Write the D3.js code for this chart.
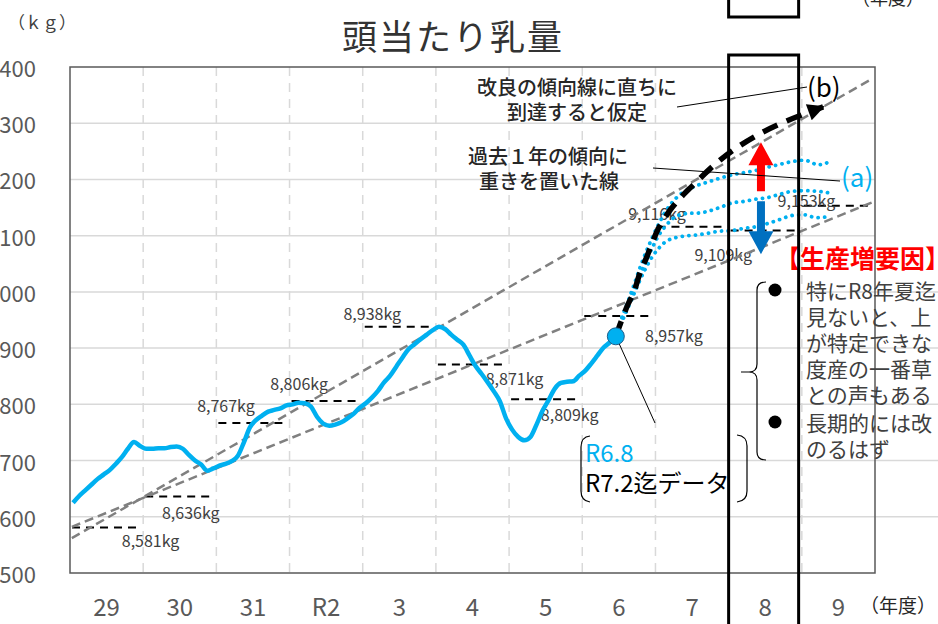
<!DOCTYPE html>
<html>
<head>
<meta charset="utf-8">
<script src="https://cdn.jsdelivr.net/npm/d3@7"></script>
<style>
body { margin: 0; background: #fff; }
svg { display: block; font-family: "Noto Sans CJK JP", "Noto Sans", sans-serif; }
</style>
</head>
<body>
<svg id="chart" width="938" height="624"></svg>
<script>
// fiscal years on the x axis
const years = ["29", "30", "31", "R2", "3", "4", "5", "6", "7", "8", "9"];
const yTicks = [8500, 8600, 8700, 8800, 8900, 9000, 9100, 9200, 9300, 9400];

// monthly milk per head (kg), from H29 up to R6.8
const actual = [
    8625, 8637, 8647, 8657, 8667, 8675, 8683, 8694, 8706, 8721,
    8733, 8726, 8721, 8721, 8722, 8722, 8724, 8725, 8721, 8710,
    8700, 8693, 8682, 8686, 8691, 8694, 8699, 8708, 8732, 8759,
    8772, 8780, 8787, 8790, 8793, 8798, 8800, 8803, 8802, 8796,
    8778, 8766, 8762, 8764, 8768, 8775, 8783, 8794, 8802, 8812,
    8824, 8839, 8851, 8867, 8883, 8898, 8907, 8916, 8924, 8932,
    8938, 8934, 8924, 8915, 8906, 8887, 8868, 8854, 8839, 8823,
    8805, 8775, 8755, 8742, 8736, 8742, 8764, 8789, 8808, 8828,
    8838, 8840, 8841, 8851, 8860, 8873, 8887, 8901, 8910, 8921
];

// fiscal year levels (dashed black)
const yearLevels = [8581, 8636, 8767, 8806, 8938, 8871, 8809, 8957, 9116, 9109, 9153];

// trend lines [month, kg]
const trendImprove = [[-0.2, 8562], [131, 9379]];
const trendLower = [[-0.2, 8582], [131, 9159]];

// (b) reaches improvement trend right away
const forecastB = [[89, 8921], [90, 8951], [91, 8978], [92, 9001], [93, 9035], [94, 9060],
    [95, 9088], [96, 9113], [97, 9131], [98, 9147], [99, 9160], [100, 9172], [101, 9183],
    [102, 9193], [103, 9204], [123, 9329]];

// (a) weighted on the last year
const forecastUpper = [[89, 8921], [90, 8955], [91, 8983], [92, 9013], [93, 9044], [94, 9072],
    [95, 9097], [96, 9120], [97, 9140], [98, 9156], [99, 9168], [100, 9177], [101, 9183],
    [102, 9188], [104, 9195], [106, 9202], [108, 9208], [110, 9212], [112, 9216], [114, 9222],
    [116, 9227], [118, 9232], [120, 9234], [121, 9231], [122, 9226], [123, 9227], [124, 9232]];
const forecastMid = [[89, 8921], [90, 8951], [91, 8978], [92, 9004], [93, 9031], [94, 9056],
    [95, 9079], [96, 9100], [97, 9115], [98, 9127], [99, 9135], [100, 9138], [101, 9140],
    [102, 9140], [104, 9143], [106, 9150], [108, 9158], [110, 9161], [112, 9165], [114, 9168],
    [116, 9174], [118, 9179], [120, 9180], [122, 9179], [124, 9176]];
const forecastLow = [[89, 8921], [90, 8947], [91, 8972], [92, 8997], [93, 9022], [94, 9044],
    [95, 9063], [96, 9077], [97, 9088], [98, 9094], [99, 9097], [100, 9099], [102, 9101],
    [104, 9104], [106, 9108], [108, 9109], [110, 9113], [112, 9116], [114, 9122], [116, 9129],
    [118, 9136], [120, 9137], [121, 9134], [122, 9132], [124, 9134]];

const noteLines = ["特にR8年夏迄", "見ないと、上", "が特定できな", "度産の一番草", "との声もある", "長期的には改", "のるはず"];

const svg = d3.select("#chart");
const L = 70, R = 875, T = 67, B = 573;

const xBand = d3.scaleBand().domain(years).range([L, R]);
const xM = d3.scaleLinear().domain([-0.5, 131.5]).range([L, R]);
const y = d3.scaleLinear().domain([8500, 9400]).range([B, T]);
const bw = xBand.bandwidth();

svg.append("rect").attr("width", 938).attr("height", 624).attr("fill", "#fff");

// horizontal grid
svg.append("g").selectAll("line")
    .data(yTicks.slice(1, -1))
    .enter().append("line")
    .attr("x1", L).attr("x2", d => d <= 9000 ? 938 : R)
    .attr("y1", d => y(d)).attr("y2", d => y(d))
    .attr("stroke", "#d9d9d9").attr("stroke-width", 1.5);

// vertical dashed grid
svg.append("g").selectAll("line")
    .data(years.slice(1))
    .enter().append("line")
    .attr("x1", d => xBand(d)).attr("x2", d => xBand(d))
    .attr("y1", T).attr("y2", B)
    .attr("stroke", "#d9d9d9").attr("stroke-width", 1.5)
    .attr("stroke-dasharray", "9,7");

// frame
svg.append("rect")
    .attr("x", L).attr("y", T).attr("width", R - L).attr("height", B - T)
    .attr("fill", "none").attr("stroke", "#595959").attr("stroke-width", 1.5);

// y tick labels (left part runs off the picture)
svg.append("g").selectAll("text")
    .data(yTicks)
    .enter().append("text")
    .attr("x", 36).attr("y", d => y(d))
    .attr("text-anchor", "end").attr("dominant-baseline", "central")
    .attr("font-size", 22).attr("fill", "#595959")
    .text(d3.format(","));

// x tick labels
svg.append("g").selectAll("text")
    .data(years)
    .enter().append("text")
    .attr("x", d => xBand(d) + bw / 2).attr("y", 616)
    .attr("text-anchor", "middle")
    .attr("font-size", 24).attr("fill", "#595959")
    .text(d => d);

svg.append("text").attr("x", 860).attr("y", 613)
    .attr("font-size", 19).attr("fill", "#262626").text("（年度）");
svg.append("text").attr("x", 852).attr("y", 5)
    .attr("font-size", 18).attr("fill", "#262626").text("（年度）");
svg.append("text").attr("x", 8).attr("y", 29)
    .attr("font-size", 17).attr("fill", "#404040").text("（ｋｇ）");

// title
svg.append("text").attr("x", 453).attr("y", 50)
    .attr("text-anchor", "middle").attr("font-size", 35).attr("letter-spacing", 2)
    .attr("fill", "#333").text("頭当たり乳量");

// fiscal year level segments
const levels = svg.append("g");
levels.selectAll("line")
    .data(yearLevels)
    .enter().append("line")
    .attr("x1", (d, i) => xBand(years[i]) + 2)
    .attr("x2", (d, i) => xBand(years[i]) + bw - 6)
    .attr("y1", d => y(d)).attr("y2", d => y(d))
    .attr("stroke", "#000").attr("stroke-width", 2)
    .attr("stroke-dasharray", "8,6");

const labelOffsets = [[44, 13], [11, 15], [-27, -18], [-27, -18], [-27, -14], [42, 14],
    [24, 15], [55, 19], [-35, -14], [-42, 23], [-32, -6]];
levels.selectAll("text")
    .data(yearLevels)
    .enter().append("text")
    .attr("x", (d, i) => xBand(years[i]) + bw / 2 + labelOffsets[i][0])
    .attr("y", (d, i) => y(d) + labelOffsets[i][1])
    .attr("text-anchor", "middle").attr("dominant-baseline", "central")
    .attr("font-size", 16).attr("fill", "#404040")
    .text(d => d3.format(",")(d) + "kg");

// trend lines
const line2 = d3.line().x(d => xM(d[0])).y(d => y(d[1]));
[trendImprove, trendLower].forEach(t => {
    svg.append("path").attr("d", line2(t))
        .attr("fill", "none").attr("stroke", "#808080")
        .attr("stroke-width", 2.5).attr("stroke-dasharray", "9,5");
});

// actual line
const lineA = d3.line()
    .x((d, i) => xM(i)).y(d => y(d))
    .curve(d3.curveMonotoneX);
svg.append("path").attr("d", lineA(actual))
    .attr("fill", "none").attr("stroke", "#00b0f0")
    .attr("stroke-width", 4.5).attr("stroke-linejoin", "round");

// (a) dotted forecasts
const lineF = d3.line().x(d => xM(d[0])).y(d => y(d[1])).curve(d3.curveMonotoneX);
[forecastUpper, forecastMid, forecastLow].forEach(f => {
    svg.append("path").attr("d", lineF(f))
        .attr("fill", "none").attr("stroke", "#00b0f0")
        .attr("stroke-width", 3.8).attr("stroke-linecap", "round")
        .attr("stroke-dasharray", "0.1,6.5");
});

// (b) dashed black with arrow
svg.append("defs").append("marker")
    .attr("id", "arrowB").attr("viewBox", "0 0 10 10")
    .attr("refX", 9).attr("refY", 5)
    .attr("markerWidth", 24).attr("markerHeight", 17)
    .attr("markerUnits", "userSpaceOnUse").attr("orient", "auto")
    .append("path").attr("d", "M0,0L10,5L0,10z").attr("fill", "#000");
svg.append("path").attr("d", lineF(forecastB))
    .attr("fill", "none").attr("stroke", "#000")
    .attr("stroke-width", 5.5).attr("stroke-dasharray", "16,10")
    .attr("marker-end", "url(#arrowB)");

// last actual point
const lastI = actual.length - 1;
const px = xM(lastI), py = y(actual[lastI]);
svg.append("line").attr("x1", px).attr("y1", py).attr("x2", 655).attr("y2", 423)
    .attr("stroke", "#000").attr("stroke-width", 1);
svg.append("circle").attr("cx", px).attr("cy", py).attr("r", 8.5)
    .attr("fill", "#00b0f0").attr("stroke", "#1f5f8b").attr("stroke-width", 1);

// up/down arrows
function vArrow(m, from, to, color) {
    const x = xM(m), y0 = y(from), y1 = y(to);
    const dir = y1 < y0 ? -1 : 1;
    const headLen = 23, sw = 4, hw = 12.5;
    const yb = y1 - dir * headLen;
    svg.append("path")
        .attr("d", `M${x - sw},${y0}L${x + sw},${y0}L${x + sw},${yb}L${x + hw},${yb}L${x},${y1}L${x - hw},${yb}L${x - sw},${yb}Z`)
        .attr("fill", color);
}
vArrow(112.8, 9179, 9266, "#ff0000");
vArrow(112.8, 9161, 9067, "#0070c0");

// annotations
const ann = svg.append("g").attr("font-size", 20).attr("font-weight", 500)
    .attr("fill", "#262626").attr("text-anchor", "middle");
ann.append("text").attr("x", 577).attr("y", 95).text("改良の傾向線に直ちに");
ann.append("text").attr("x", 577).attr("y", 120).text("到達すると仮定");
ann.append("text").attr("x", 548).attr("y", 164).text("過去１年の傾向に");
ann.append("text").attr("x", 549).attr("y", 189).text("重きを置いた線");

svg.append("line").attr("x1", 677).attr("y1", 107).attr("x2", 807).attr("y2", 87)
    .attr("stroke", "#000").attr("stroke-width", 1);
svg.append("line").attr("x1", 653).attr("y1", 168).attr("x2", 840).attr("y2", 181)
    .attr("stroke", "#000").attr("stroke-width", 1);

svg.append("text").attr("x", 807).attr("y", 97).attr("font-size", 26)
    .attr("fill", "#000").text("(b)");
svg.append("text").attr("x", 841).attr("y", 187).attr("font-size", 26)
    .attr("fill", "#00b0f0").text("(a)");

// R6.8 note
svg.append("text").attr("x", 585).attr("y", 462).attr("font-size", 24)
    .attr("fill", "#00b0f0").text("R6.8");
svg.append("text").attr("x", 585).attr("y", 492).attr("font-size", 24)
    .attr("fill", "#000").text("R7.2迄データ");
svg.append("path").attr("d", "M590,436Q581,437 581,447L581,491Q581,501 590,502")
    .attr("fill", "none").attr("stroke", "#000").attr("stroke-width", 1.2);
svg.append("path").attr("d", "M737,435Q747,436 747,446L747,491Q747,501 737,502")
    .attr("fill", "none").attr("stroke", "#000").attr("stroke-width", 1.2);

// production increase factors
svg.append("text").attr("x", 775).attr("y", 268).attr("font-size", 25)
    .attr("font-weight", 700).attr("fill", "#ff0000").text("【生産増要因】");

svg.append("path")
    .attr("d", "M766,282Q757,282 757,290L757,364Q757,372 749,372Q757,372 757,380L757,452Q757,460 766,460M741,372L749,372")
    .attr("fill", "none").attr("stroke", "#000").attr("stroke-width", 1.2);

const noteY = [290, 316, 342, 368, 394, 422, 448];
svg.append("g").selectAll("text")
    .data(noteLines)
    .enter().append("text")
    .attr("x", 806).attr("y", (d, i) => noteY[i])
    .attr("dominant-baseline", "central")
    .attr("font-size", 21).attr("fill", "#404040")
    .text(d => d);
[290, 422].forEach(cy => {
    svg.append("circle").attr("cx", 775).attr("cy", cy).attr("r", 6.5).attr("fill", "#000");
});

// boxes around FY8
const x8 = xBand("8");
svg.append("rect").attr("x", x8).attr("y", 55).attr("width", 70).attr("height", 600)
    .attr("fill", "none").attr("stroke", "#000").attr("stroke-width", 3);
svg.append("rect").attr("x", x8).attr("y", -20).attr("width", 70).attr("height", 37)
    .attr("fill", "none").attr("stroke", "#000").attr("stroke-width", 3);
</script>
</body>
</html>
